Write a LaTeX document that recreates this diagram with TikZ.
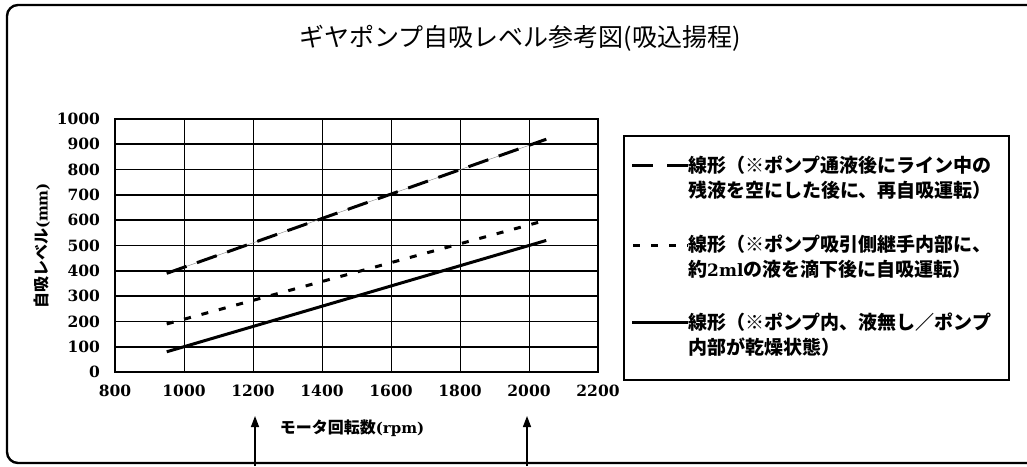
\documentclass[tikz,border=0pt]{standalone}
\usepackage{fontspec}
\setmainfont{Liberation Serif}
\newfontfamily\cjk{Noto Sans CJK JP}
\newfontfamily\numfont{DejaVu Serif}
\usetikzlibrary{arrows.meta}
\begin{document}
\begin{tikzpicture}[x=1pt,y=-1pt,
  numlab/.style={font=\numfont\bfseries\fontsize{15.5}{18}\selectfont, inner sep=0pt},
  axtitle/.style={font=\fontsize{16}{18}\selectfont, inner sep=0pt},
  legtext/.style={font=\cjk\bfseries\fontsize{19}{25}\selectfont, align=left, inner sep=0pt, anchor=west},
  hgrid/.style={line width=1.6pt},
  vgrid/.style={line width=0.8pt},
  series/.style={line width=3pt},
  longdash/.style={series, dash pattern=on 21pt off 11pt},
  shortdash/.style={series, dash pattern=on 7pt off 11pt},
  upmark/.style={line width=1.4pt, -{Triangle[length=11pt,width=8pt]}}]
\useasboundingbox (0,0) rectangle (1027,466);
% outer frame
\draw[line width=2.4pt, rounded corners=11pt] (1040,5) -- (7,5) -- (7,463) -- (1040,463);
% title
\node[font=\cjk\fontsize{25}{28}\selectfont, inner sep=0pt] (title) at (520,38) {ギヤポンプ自吸レベル参考図(吸込揚程)};
% plot
\begin{scope}[shift={(-161,372)}, x=0.345pt, y=0.253pt]
  \foreach \r in {1000,1200,...,2000} \draw[vgrid] (\r,0) -- (\r,1000);
  \foreach \v in {100,200,...,900} \draw[hgrid] (800,\v) -- (2200,\v);
  \draw[line width=2pt] (800,0) rectangle (2200,1000);
  \foreach \v in {0,100,...,1000} \node[numlab, anchor=east] (y\v) at (757,\v) {\v};
  \foreach \r in {800,1000,...,2200} \node[numlab] (x\r) at (\r,-75) {\r};
  \coordinate (aS) at (950,390); \coordinate (aE) at (2050,920);
  \coordinate (bS) at (950,190); \coordinate (bE) at (2050,600);
  \coordinate (cS) at (950,80);  \coordinate (cE) at (2050,520);
\end{scope}
\draw[line width=0.4pt, gray] (aS) -- (aE);
\draw[longdash] (aS) -- (aE);
\draw[shortdash] (bS) -- (bE);
\draw[series] (cS) -- (cE);
% axis titles
\node[axtitle, rotate=90] (ytitle) at (42,246) {{\cjk\bfseries 自吸レベル}{\numfont\bfseries\fontsize{15}{17}\selectfont(mm)}};
\node[axtitle] (xtitle) at (352,428) {{\cjk\bfseries モータ回転数}{\numfont\bfseries\fontsize{15}{17}\selectfont(rpm)}};
% arrows
\coordinate (p1) at (255,466); \coordinate (q1) at (255,416);
\coordinate (p2) at (527,466); \coordinate (q2) at (527,416);
\draw[upmark] (p1) -- (q1);
\draw[upmark] (p2) -- (q2);
% legend
\node[draw, line width=2pt, minimum width=385pt, minimum height=244pt, anchor=north west, inner sep=0pt] (legend) at (623,135) {};
\coordinate (l1a) at (632,165); \coordinate (l1b) at (688,165);
\coordinate (l2a) at (633,245); \coordinate (l2b) at (688,245);
\coordinate (l3a) at (632,322); \coordinate (l3b) at (688,322);
\draw[series, dash pattern=on 21pt off 14pt] (l1a) -- (l1b);
\draw[shortdash] (l2a) -- (l2b);
\draw[series] (l3a) -- (l3b);
\node[legtext] (t1) at (688,177.5) {線形（※ポンプ通液後にライン中の\\残液を空にした後に、再自吸運転）};
\node[legtext] (t2) at (688,256.5) {線形（※ポンプ吸引側継手内部に、\\約{\numfont\bfseries\fontsize{17}{25}\selectfont 2ml}の液を滴下後に自吸運転）};
\node[legtext] (t3) at (688,335) {線形（※ポンプ内、液無し／ポンプ\\内部が乾燥状態）};
\end{tikzpicture}
\end{document}
